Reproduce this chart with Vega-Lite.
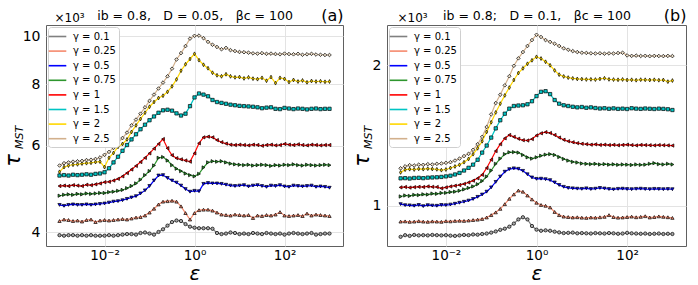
{
"$schema":"https://vega.github.io/schema/vega-lite/v6.json",
"padding":{"left":1,"right":8,"top":6,"bottom":0},
"bounds":"flush",
"spacing":44,
"config":{"font":"DejaVu Sans","view":{"stroke":"#606060","strokeWidth":1},
"axis":{"labelFont":"DejaVu Sans","titleFont":"DejaVu Sans","titleFontWeight":"normal","labelColor":"#000","titleColor":"#000"},
"legend":{"labelFont":"DejaVu Sans"}},
"datasets":{
"a":[
{"g":0.1,"e":0.001,"t":3.95},{"g":0.1,"e":0.001259,"t":3.94},{"g":0.1,"e":0.001585,"t":3.95},{"g":0.1,"e":0.001995,"t":3.95},{"g":0.1,"e":0.002512,"t":3.94},{"g":0.1,"e":0.003162,"t":3.95},{"g":0.1,"e":0.003981,"t":3.94},{"g":0.1,"e":0.005012,"t":3.95},{"g":0.1,"e":0.00631,"t":3.94},{"g":0.1,"e":0.007943,"t":3.94},
{"g":0.1,"e":0.01,"t":3.94},{"g":0.1,"e":0.01259,"t":3.95},{"g":0.1,"e":0.01585,"t":3.94},{"g":0.1,"e":0.01995,"t":3.95},{"g":0.1,"e":0.02512,"t":3.96},{"g":0.1,"e":0.03162,"t":3.97},{"g":0.1,"e":0.03981,"t":3.97},{"g":0.1,"e":0.05012,"t":3.96},{"g":0.1,"e":0.0631,"t":3.99},{"g":0.1,"e":0.07943,"t":4.00},
{"g":0.1,"e":0.1,"t":3.98},{"g":0.1,"e":0.1259,"t":3.96},{"g":0.1,"e":0.1585,"t":4.01},{"g":0.1,"e":0.1995,"t":4.06},{"g":0.1,"e":0.2512,"t":4.13},{"g":0.1,"e":0.3162,"t":4.20},{"g":0.1,"e":0.3981,"t":4.23},{"g":0.1,"e":0.5012,"t":4.22},{"g":0.1,"e":0.631,"t":4.16},{"g":0.1,"e":0.7943,"t":4.11},
{"g":0.1,"e":1,"t":4.09},{"g":0.1,"e":1.259,"t":4.08},{"g":0.1,"e":1.585,"t":4.08},{"g":0.1,"e":1.995,"t":4.08},{"g":0.1,"e":2.512,"t":4.07},{"g":0.1,"e":3.162,"t":3.99},{"g":0.1,"e":3.981,"t":3.97},{"g":0.1,"e":5.012,"t":3.98},{"g":0.1,"e":6.31,"t":4.00},{"g":0.1,"e":7.943,"t":3.99},
{"g":0.1,"e":10,"t":3.97},{"g":0.1,"e":12.59,"t":3.98},{"g":0.1,"e":15.85,"t":3.97},{"g":0.1,"e":19.95,"t":3.99},{"g":0.1,"e":25.12,"t":3.98},{"g":0.1,"e":31.62,"t":3.97},{"g":0.1,"e":39.81,"t":3.99},{"g":0.1,"e":50.12,"t":3.98},{"g":0.1,"e":63.1,"t":3.97},{"g":0.1,"e":79.43,"t":3.98},
{"g":0.1,"e":100,"t":3.96},{"g":0.1,"e":125.9,"t":3.98},{"g":0.1,"e":158.5,"t":3.99},{"g":0.1,"e":199.5,"t":3.98},{"g":0.1,"e":251.2,"t":3.97},{"g":0.1,"e":316.2,"t":3.98},{"g":0.1,"e":398.1,"t":3.99},{"g":0.1,"e":501.2,"t":3.96},{"g":0.1,"e":631,"t":3.97},{"g":0.1,"e":794.3,"t":3.98},{"g":0.1,"e":1000,"t":3.98},
{"g":0.25,"e":0.001,"t":4.22},{"g":0.25,"e":0.001259,"t":4.25},{"g":0.25,"e":0.001585,"t":4.24},{"g":0.25,"e":0.001995,"t":4.22},{"g":0.25,"e":0.002512,"t":4.23},{"g":0.25,"e":0.003162,"t":4.21},{"g":0.25,"e":0.003981,"t":4.24},{"g":0.25,"e":0.005012,"t":4.25},{"g":0.25,"e":0.00631,"t":4.20},{"g":0.25,"e":0.007943,"t":4.23},
{"g":0.25,"e":0.01,"t":4.24},{"g":0.25,"e":0.01259,"t":4.23},{"g":0.25,"e":0.01585,"t":4.24},{"g":0.25,"e":0.01995,"t":4.25},{"g":0.25,"e":0.02512,"t":4.26},{"g":0.25,"e":0.03162,"t":4.25},{"g":0.25,"e":0.03981,"t":4.27},{"g":0.25,"e":0.05012,"t":4.29},{"g":0.25,"e":0.0631,"t":4.30},{"g":0.25,"e":0.07943,"t":4.33},
{"g":0.25,"e":0.1,"t":4.39},{"g":0.25,"e":0.1259,"t":4.47},{"g":0.25,"e":0.1585,"t":4.56},{"g":0.25,"e":0.1995,"t":4.62},{"g":0.25,"e":0.2512,"t":4.63},{"g":0.25,"e":0.3162,"t":4.64},{"g":0.25,"e":0.3981,"t":4.62},{"g":0.25,"e":0.5012,"t":4.52},{"g":0.25,"e":0.631,"t":4.38},{"g":0.25,"e":0.7943,"t":4.25},
{"g":0.25,"e":1,"t":4.38},{"g":0.25,"e":1.259,"t":4.44},{"g":0.25,"e":1.585,"t":4.45},{"g":0.25,"e":1.995,"t":4.45},{"g":0.25,"e":2.512,"t":4.43},{"g":0.25,"e":3.162,"t":4.39},{"g":0.25,"e":3.981,"t":4.35},{"g":0.25,"e":5.012,"t":4.34},{"g":0.25,"e":6.31,"t":4.33},{"g":0.25,"e":7.943,"t":4.35},
{"g":0.25,"e":10,"t":4.34},{"g":0.25,"e":12.59,"t":4.33},{"g":0.25,"e":15.85,"t":4.34},{"g":0.25,"e":19.95,"t":4.28},{"g":0.25,"e":25.12,"t":4.33},{"g":0.25,"e":31.62,"t":4.32},{"g":0.25,"e":39.81,"t":4.34},{"g":0.25,"e":50.12,"t":4.33},{"g":0.25,"e":63.1,"t":4.35},{"g":0.25,"e":79.43,"t":4.40},
{"g":0.25,"e":100,"t":4.33},{"g":0.25,"e":125.9,"t":4.32},{"g":0.25,"e":158.5,"t":4.33},{"g":0.25,"e":199.5,"t":4.34},{"g":0.25,"e":251.2,"t":4.32},{"g":0.25,"e":316.2,"t":4.37},{"g":0.25,"e":398.1,"t":4.33},{"g":0.25,"e":501.2,"t":4.35},{"g":0.25,"e":631,"t":4.34},{"g":0.25,"e":794.3,"t":4.33},{"g":0.25,"e":1000,"t":4.32},
{"g":0.5,"e":0.001,"t":4.55},{"g":0.5,"e":0.001259,"t":4.53},{"g":0.5,"e":0.001585,"t":4.55},{"g":0.5,"e":0.001995,"t":4.56},{"g":0.5,"e":0.002512,"t":4.55},{"g":0.5,"e":0.003162,"t":4.55},{"g":0.5,"e":0.003981,"t":4.56},{"g":0.5,"e":0.005012,"t":4.55},{"g":0.5,"e":0.00631,"t":4.56},{"g":0.5,"e":0.007943,"t":4.57},
{"g":0.5,"e":0.01,"t":4.58},{"g":0.5,"e":0.01259,"t":4.60},{"g":0.5,"e":0.01585,"t":4.62},{"g":0.5,"e":0.01995,"t":4.63},{"g":0.5,"e":0.02512,"t":4.65},{"g":0.5,"e":0.03162,"t":4.68},{"g":0.5,"e":0.03981,"t":4.71},{"g":0.5,"e":0.05012,"t":4.74},{"g":0.5,"e":0.0631,"t":4.80},{"g":0.5,"e":0.07943,"t":4.87},
{"g":0.5,"e":0.1,"t":4.97},{"g":0.5,"e":0.1259,"t":5.10},{"g":0.5,"e":0.1585,"t":5.22},{"g":0.5,"e":0.1995,"t":5.23},{"g":0.5,"e":0.2512,"t":5.16},{"g":0.5,"e":0.3162,"t":5.10},{"g":0.5,"e":0.3981,"t":5.05},{"g":0.5,"e":0.5012,"t":4.98},{"g":0.5,"e":0.631,"t":4.90},{"g":0.5,"e":0.7943,"t":4.84},
{"g":0.5,"e":1,"t":4.86},{"g":0.5,"e":1.259,"t":4.85},{"g":0.5,"e":1.585,"t":5.02},{"g":0.5,"e":1.995,"t":5.04},{"g":0.5,"e":2.512,"t":5.03},{"g":0.5,"e":3.162,"t":5.03},{"g":0.5,"e":3.981,"t":5.02},{"g":0.5,"e":5.012,"t":5.00},{"g":0.5,"e":6.31,"t":4.98},{"g":0.5,"e":7.943,"t":4.97},
{"g":0.5,"e":10,"t":4.98},{"g":0.5,"e":12.59,"t":4.99},{"g":0.5,"e":15.85,"t":4.96},{"g":0.5,"e":19.95,"t":4.98},{"g":0.5,"e":25.12,"t":4.99},{"g":0.5,"e":31.62,"t":4.97},{"g":0.5,"e":39.81,"t":4.95},{"g":0.5,"e":50.12,"t":4.98},{"g":0.5,"e":63.1,"t":4.97},{"g":0.5,"e":79.43,"t":4.99},
{"g":0.5,"e":100,"t":4.96},{"g":0.5,"e":125.9,"t":4.95},{"g":0.5,"e":158.5,"t":4.98},{"g":0.5,"e":199.5,"t":4.97},{"g":0.5,"e":251.2,"t":4.96},{"g":0.5,"e":316.2,"t":4.97},{"g":0.5,"e":398.1,"t":4.98},{"g":0.5,"e":501.2,"t":4.95},{"g":0.5,"e":631,"t":4.96},{"g":0.5,"e":794.3,"t":4.95},{"g":0.5,"e":1000,"t":4.93},
{"g":0.75,"e":0.001,"t":4.75},{"g":0.75,"e":0.001259,"t":4.77},{"g":0.75,"e":0.001585,"t":4.78},{"g":0.75,"e":0.001995,"t":4.77},{"g":0.75,"e":0.002512,"t":4.79},{"g":0.75,"e":0.003162,"t":4.78},{"g":0.75,"e":0.003981,"t":4.80},{"g":0.75,"e":0.005012,"t":4.79},{"g":0.75,"e":0.00631,"t":4.80},{"g":0.75,"e":0.007943,"t":4.81},
{"g":0.75,"e":0.01,"t":4.81},{"g":0.75,"e":0.01259,"t":4.83},{"g":0.75,"e":0.01585,"t":4.84},{"g":0.75,"e":0.01995,"t":4.86},{"g":0.75,"e":0.02512,"t":4.88},{"g":0.75,"e":0.03162,"t":4.92},{"g":0.75,"e":0.03981,"t":4.97},{"g":0.75,"e":0.05012,"t":5.03},{"g":0.75,"e":0.0631,"t":5.12},{"g":0.75,"e":0.07943,"t":5.23},
{"g":0.75,"e":0.1,"t":5.33},{"g":0.75,"e":0.1259,"t":5.47},{"g":0.75,"e":0.1585,"t":5.67},{"g":0.75,"e":0.1995,"t":5.69},{"g":0.75,"e":0.2512,"t":5.60},{"g":0.75,"e":0.3162,"t":5.48},{"g":0.75,"e":0.3981,"t":5.39},{"g":0.75,"e":0.5012,"t":5.33},{"g":0.75,"e":0.631,"t":5.27},{"g":0.75,"e":0.7943,"t":5.23},
{"g":0.75,"e":1,"t":5.20},{"g":0.75,"e":1.259,"t":5.26},{"g":0.75,"e":1.585,"t":5.42},{"g":0.75,"e":1.995,"t":5.55},{"g":0.75,"e":2.512,"t":5.58},{"g":0.75,"e":3.162,"t":5.57},{"g":0.75,"e":3.981,"t":5.58},{"g":0.75,"e":5.012,"t":5.55},{"g":0.75,"e":6.31,"t":5.52},{"g":0.75,"e":7.943,"t":5.50},
{"g":0.75,"e":10,"t":5.49},{"g":0.75,"e":12.59,"t":5.48},{"g":0.75,"e":15.85,"t":5.49},{"g":0.75,"e":19.95,"t":5.47},{"g":0.75,"e":25.12,"t":5.48},{"g":0.75,"e":31.62,"t":5.49},{"g":0.75,"e":39.81,"t":5.48},{"g":0.75,"e":50.12,"t":5.46},{"g":0.75,"e":63.1,"t":5.48},{"g":0.75,"e":79.43,"t":5.47},
{"g":0.75,"e":100,"t":5.49},{"g":0.75,"e":125.9,"t":5.48},{"g":0.75,"e":158.5,"t":5.50},{"g":0.75,"e":199.5,"t":5.48},{"g":0.75,"e":251.2,"t":5.47},{"g":0.75,"e":316.2,"t":5.49},{"g":0.75,"e":398.1,"t":5.48},{"g":0.75,"e":501.2,"t":5.47},{"g":0.75,"e":631,"t":5.48},{"g":0.75,"e":794.3,"t":5.49},{"g":0.75,"e":1000,"t":5.48},
{"g":1,"e":0.001,"t":4.97},{"g":1,"e":0.001259,"t":4.98},{"g":1,"e":0.001585,"t":4.97},{"g":1,"e":0.001995,"t":4.99},{"g":1,"e":0.002512,"t":4.98},{"g":1,"e":0.003162,"t":4.97},{"g":1,"e":0.003981,"t":5.00},{"g":1,"e":0.005012,"t":4.99},{"g":1,"e":0.00631,"t":5.01},{"g":1,"e":0.007943,"t":5.03},
{"g":1,"e":0.01,"t":5.06},{"g":1,"e":0.01259,"t":5.07},{"g":1,"e":0.01585,"t":5.10},{"g":1,"e":0.01995,"t":5.14},{"g":1,"e":0.02512,"t":5.20},{"g":1,"e":0.03162,"t":5.28},{"g":1,"e":0.03981,"t":5.37},{"g":1,"e":0.05012,"t":5.46},{"g":1,"e":0.0631,"t":5.56},{"g":1,"e":0.07943,"t":5.67},
{"g":1,"e":0.1,"t":5.79},{"g":1,"e":0.1259,"t":5.92},{"g":1,"e":0.1585,"t":6.05},{"g":1,"e":0.1995,"t":6.19},{"g":1,"e":0.2512,"t":5.93},{"g":1,"e":0.3162,"t":5.74},{"g":1,"e":0.3981,"t":5.66},{"g":1,"e":0.5012,"t":5.63},{"g":1,"e":0.631,"t":5.60},{"g":1,"e":0.7943,"t":5.57},
{"g":1,"e":1,"t":5.79},{"g":1,"e":1.259,"t":6.07},{"g":1,"e":1.585,"t":6.24},{"g":1,"e":1.995,"t":6.26},{"g":1,"e":2.512,"t":6.24},{"g":1,"e":3.162,"t":6.16},{"g":1,"e":3.981,"t":6.10},{"g":1,"e":5.012,"t":6.06},{"g":1,"e":6.31,"t":6.03},{"g":1,"e":7.943,"t":6.02},
{"g":1,"e":10,"t":6.03},{"g":1,"e":12.59,"t":6.02},{"g":1,"e":15.85,"t":6.01},{"g":1,"e":19.95,"t":6.03},{"g":1,"e":25.12,"t":6.02},{"g":1,"e":31.62,"t":6.00},{"g":1,"e":39.81,"t":6.02},{"g":1,"e":50.12,"t":6.03},{"g":1,"e":63.1,"t":6.01},{"g":1,"e":79.43,"t":6.02},
{"g":1,"e":100,"t":6.05},{"g":1,"e":125.9,"t":6.03},{"g":1,"e":158.5,"t":6.02},{"g":1,"e":199.5,"t":6.04},{"g":1,"e":251.2,"t":6.02},{"g":1,"e":316.2,"t":6.01},{"g":1,"e":398.1,"t":6.03},{"g":1,"e":501.2,"t":6.02},{"g":1,"e":631,"t":6.01},{"g":1,"e":794.3,"t":6.02},{"g":1,"e":1000,"t":6.02},
{"g":1.5,"e":0.001,"t":5.22},{"g":1.5,"e":0.001259,"t":5.23},{"g":1.5,"e":0.001585,"t":5.22},{"g":1.5,"e":0.001995,"t":5.24},{"g":1.5,"e":0.002512,"t":5.23},{"g":1.5,"e":0.003162,"t":5.24},{"g":1.5,"e":0.003981,"t":5.25},{"g":1.5,"e":0.005012,"t":5.24},{"g":1.5,"e":0.00631,"t":5.26},{"g":1.5,"e":0.007943,"t":5.27},
{"g":1.5,"e":0.01,"t":5.30},{"g":1.5,"e":0.01259,"t":5.40},{"g":1.5,"e":0.01585,"t":5.55},{"g":1.5,"e":0.01995,"t":5.70},{"g":1.5,"e":0.02512,"t":5.86},{"g":1.5,"e":0.03162,"t":6.02},{"g":1.5,"e":0.03981,"t":6.18},{"g":1.5,"e":0.05012,"t":6.33},{"g":1.5,"e":0.0631,"t":6.48},{"g":1.5,"e":0.07943,"t":6.62},
{"g":1.5,"e":0.1,"t":6.76},{"g":1.5,"e":0.1259,"t":6.88},{"g":1.5,"e":0.1585,"t":7.00},{"g":1.5,"e":0.1995,"t":7.08},{"g":1.5,"e":0.2512,"t":7.10},{"g":1.5,"e":0.3162,"t":7.07},{"g":1.5,"e":0.3981,"t":6.98},{"g":1.5,"e":0.5012,"t":6.91},{"g":1.5,"e":0.631,"t":6.97},{"g":1.5,"e":0.7943,"t":7.22},
{"g":1.5,"e":1,"t":7.52},{"g":1.5,"e":1.259,"t":7.66},{"g":1.5,"e":1.585,"t":7.62},{"g":1.5,"e":1.995,"t":7.56},{"g":1.5,"e":2.512,"t":7.43},{"g":1.5,"e":3.162,"t":7.36},{"g":1.5,"e":3.981,"t":7.33},{"g":1.5,"e":5.012,"t":7.30},{"g":1.5,"e":6.31,"t":7.27},{"g":1.5,"e":7.943,"t":7.25},
{"g":1.5,"e":10,"t":7.23},{"g":1.5,"e":12.59,"t":7.22},{"g":1.5,"e":15.85,"t":7.21},{"g":1.5,"e":19.95,"t":7.20},{"g":1.5,"e":25.12,"t":7.18},{"g":1.5,"e":31.62,"t":7.15},{"g":1.5,"e":39.81,"t":7.17},{"g":1.5,"e":50.12,"t":7.18},{"g":1.5,"e":63.1,"t":7.13},{"g":1.5,"e":79.43,"t":7.12},
{"g":1.5,"e":100,"t":7.16},{"g":1.5,"e":125.9,"t":7.14},{"g":1.5,"e":158.5,"t":7.12},{"g":1.5,"e":199.5,"t":7.14},{"g":1.5,"e":251.2,"t":7.13},{"g":1.5,"e":316.2,"t":7.11},{"g":1.5,"e":398.1,"t":7.13},{"g":1.5,"e":501.2,"t":7.14},{"g":1.5,"e":631,"t":7.12},{"g":1.5,"e":794.3,"t":7.13},{"g":1.5,"e":1000,"t":7.13},
{"g":2,"e":0.001,"t":5.31},{"g":2,"e":0.001259,"t":5.43},{"g":2,"e":0.001585,"t":5.47},{"g":2,"e":0.001995,"t":5.49},{"g":2,"e":0.002512,"t":5.50},{"g":2,"e":0.003162,"t":5.52},{"g":2,"e":0.003981,"t":5.53},{"g":2,"e":0.005012,"t":5.54},{"g":2,"e":0.00631,"t":5.56},{"g":2,"e":0.007943,"t":5.57},
{"g":2,"e":0.01,"t":5.43},{"g":2,"e":0.01259,"t":5.67},{"g":2,"e":0.01585,"t":5.80},{"g":2,"e":0.01995,"t":5.97},{"g":2,"e":0.02512,"t":6.05},{"g":2,"e":0.03162,"t":6.18},{"g":2,"e":0.03981,"t":6.40},{"g":2,"e":0.05012,"t":6.60},{"g":2,"e":0.0631,"t":6.80},{"g":2,"e":0.07943,"t":7.00},
{"g":2,"e":0.1,"t":7.20},{"g":2,"e":0.1259,"t":7.36},{"g":2,"e":0.1585,"t":7.50},{"g":2,"e":0.1995,"t":7.58},{"g":2,"e":0.2512,"t":7.72},{"g":2,"e":0.3162,"t":7.92},{"g":2,"e":0.3981,"t":8.18},{"g":2,"e":0.5012,"t":8.52},{"g":2,"e":0.631,"t":8.78},{"g":2,"e":0.7943,"t":9.00},
{"g":2,"e":1,"t":9.22},{"g":2,"e":1.259,"t":8.95},{"g":2,"e":1.585,"t":8.76},{"g":2,"e":1.995,"t":8.62},{"g":2,"e":2.512,"t":8.44},{"g":2,"e":3.162,"t":8.34},{"g":2,"e":3.981,"t":8.30},{"g":2,"e":5.012,"t":8.38},{"g":2,"e":6.31,"t":8.30},{"g":2,"e":7.943,"t":8.26},
{"g":2,"e":10,"t":8.27},{"g":2,"e":12.59,"t":8.22},{"g":2,"e":15.85,"t":8.26},{"g":2,"e":19.95,"t":8.21},{"g":2,"e":25.12,"t":8.19},{"g":2,"e":31.62,"t":8.24},{"g":2,"e":39.81,"t":8.13},{"g":2,"e":50.12,"t":8.27},{"g":2,"e":63.1,"t":8.04},{"g":2,"e":79.43,"t":8.24},
{"g":2,"e":100,"t":8.20},{"g":2,"e":125.9,"t":8.08},{"g":2,"e":158.5,"t":8.16},{"g":2,"e":199.5,"t":8.10},{"g":2,"e":251.2,"t":8.14},{"g":2,"e":316.2,"t":8.07},{"g":2,"e":398.1,"t":8.12},{"g":2,"e":501.2,"t":8.10},{"g":2,"e":631,"t":8.11},{"g":2,"e":794.3,"t":8.09},{"g":2,"e":1000,"t":8.10},
{"g":2.5,"e":0.001,"t":5.47},{"g":2.5,"e":0.001259,"t":5.53},{"g":2.5,"e":0.001585,"t":5.55},{"g":2.5,"e":0.001995,"t":5.57},{"g":2.5,"e":0.002512,"t":5.58},{"g":2.5,"e":0.003162,"t":5.59},{"g":2.5,"e":0.003981,"t":5.61},{"g":2.5,"e":0.005012,"t":5.62},{"g":2.5,"e":0.00631,"t":5.64},{"g":2.5,"e":0.007943,"t":5.68},
{"g":2.5,"e":0.01,"t":5.75},{"g":2.5,"e":0.01259,"t":5.83},{"g":2.5,"e":0.01585,"t":5.94},{"g":2.5,"e":0.01995,"t":6.08},{"g":2.5,"e":0.02512,"t":6.22},{"g":2.5,"e":0.03162,"t":6.38},{"g":2.5,"e":0.03981,"t":6.60},{"g":2.5,"e":0.05012,"t":6.78},{"g":2.5,"e":0.0631,"t":6.97},{"g":2.5,"e":0.07943,"t":7.18},
{"g":2.5,"e":0.1,"t":7.40},{"g":2.5,"e":0.1259,"t":7.62},{"g":2.5,"e":0.1585,"t":7.84},{"g":2.5,"e":0.1995,"t":8.06},{"g":2.5,"e":0.2512,"t":8.30},{"g":2.5,"e":0.3162,"t":8.60},{"g":2.5,"e":0.3981,"t":8.98},{"g":2.5,"e":0.5012,"t":9.25},{"g":2.5,"e":0.631,"t":9.56},{"g":2.5,"e":0.7943,"t":9.90},
{"g":2.5,"e":1,"t":10.03},{"g":2.5,"e":1.259,"t":10.04},{"g":2.5,"e":1.585,"t":9.92},{"g":2.5,"e":1.995,"t":9.75},{"g":2.5,"e":2.512,"t":9.62},{"g":2.5,"e":3.162,"t":9.52},{"g":2.5,"e":3.981,"t":9.42},{"g":2.5,"e":5.012,"t":9.48},{"g":2.5,"e":6.31,"t":9.38},{"g":2.5,"e":7.943,"t":9.34},
{"g":2.5,"e":10,"t":9.30},{"g":2.5,"e":12.59,"t":9.29},{"g":2.5,"e":15.85,"t":9.27},{"g":2.5,"e":19.95,"t":9.24},{"g":2.5,"e":25.12,"t":9.23},{"g":2.5,"e":31.62,"t":9.25},{"g":2.5,"e":39.81,"t":9.22},{"g":2.5,"e":50.12,"t":9.23},{"g":2.5,"e":63.1,"t":9.21},{"g":2.5,"e":79.43,"t":9.20},
{"g":2.5,"e":100,"t":9.23},{"g":2.5,"e":125.9,"t":9.21},{"g":2.5,"e":158.5,"t":9.20},{"g":2.5,"e":199.5,"t":9.22},{"g":2.5,"e":251.2,"t":9.18},{"g":2.5,"e":316.2,"t":9.20},{"g":2.5,"e":398.1,"t":9.22},{"g":2.5,"e":501.2,"t":9.19},{"g":2.5,"e":631,"t":9.18},{"g":2.5,"e":794.3,"t":9.17},{"g":2.5,"e":1000,"t":9.17}
],
"b":[
{"g":0.1,"e":0.001,"t":0.858},{"g":0.1,"e":0.001259,"t":0.865},{"g":0.1,"e":0.001585,"t":0.862},{"g":0.1,"e":0.001995,"t":0.866},{"g":0.1,"e":0.002512,"t":0.864},{"g":0.1,"e":0.003162,"t":0.865},{"g":0.1,"e":0.003981,"t":0.864},{"g":0.1,"e":0.005012,"t":0.866},{"g":0.1,"e":0.00631,"t":0.865},{"g":0.1,"e":0.007943,"t":0.864},
{"g":0.1,"e":0.01,"t":0.865},{"g":0.1,"e":0.01259,"t":0.863},{"g":0.1,"e":0.01585,"t":0.862},{"g":0.1,"e":0.01995,"t":0.864},{"g":0.1,"e":0.02512,"t":0.866},{"g":0.1,"e":0.03162,"t":0.865},{"g":0.1,"e":0.03981,"t":0.868},{"g":0.1,"e":0.05012,"t":0.867},{"g":0.1,"e":0.0631,"t":0.870},{"g":0.1,"e":0.07943,"t":0.872},
{"g":0.1,"e":0.1,"t":0.876},{"g":0.1,"e":0.1259,"t":0.881},{"g":0.1,"e":0.1585,"t":0.888},{"g":0.1,"e":0.1995,"t":0.893},{"g":0.1,"e":0.2512,"t":0.902},{"g":0.1,"e":0.3162,"t":0.916},{"g":0.1,"e":0.3981,"t":0.935},{"g":0.1,"e":0.5012,"t":0.945},{"g":0.1,"e":0.631,"t":0.935},{"g":0.1,"e":0.7943,"t":0.905},
{"g":0.1,"e":1,"t":0.889},{"g":0.1,"e":1.259,"t":0.884},{"g":0.1,"e":1.585,"t":0.886},{"g":0.1,"e":1.995,"t":0.884},{"g":0.1,"e":2.512,"t":0.880},{"g":0.1,"e":3.162,"t":0.877},{"g":0.1,"e":3.981,"t":0.874},{"g":0.1,"e":5.012,"t":0.875},{"g":0.1,"e":6.31,"t":0.876},{"g":0.1,"e":7.943,"t":0.873},
{"g":0.1,"e":10,"t":0.874},{"g":0.1,"e":12.59,"t":0.873},{"g":0.1,"e":15.85,"t":0.872},{"g":0.1,"e":19.95,"t":0.874},{"g":0.1,"e":25.12,"t":0.873},{"g":0.1,"e":31.62,"t":0.872},{"g":0.1,"e":39.81,"t":0.874},{"g":0.1,"e":50.12,"t":0.873},{"g":0.1,"e":63.1,"t":0.871},{"g":0.1,"e":79.43,"t":0.872},
{"g":0.1,"e":100,"t":0.875},{"g":0.1,"e":125.9,"t":0.873},{"g":0.1,"e":158.5,"t":0.872},{"g":0.1,"e":199.5,"t":0.871},{"g":0.1,"e":251.2,"t":0.872},{"g":0.1,"e":316.2,"t":0.870},{"g":0.1,"e":398.1,"t":0.871},{"g":0.1,"e":501.2,"t":0.872},{"g":0.1,"e":631,"t":0.870},{"g":0.1,"e":794.3,"t":0.871},{"g":0.1,"e":1000,"t":0.870},
{"g":0.25,"e":0.001,"t":0.925},{"g":0.25,"e":0.001259,"t":0.926},{"g":0.25,"e":0.001585,"t":0.924},{"g":0.25,"e":0.001995,"t":0.925},{"g":0.25,"e":0.002512,"t":0.927},{"g":0.25,"e":0.003162,"t":0.925},{"g":0.25,"e":0.003981,"t":0.924},{"g":0.25,"e":0.005012,"t":0.926},{"g":0.25,"e":0.00631,"t":0.925},{"g":0.25,"e":0.007943,"t":0.924},
{"g":0.25,"e":0.01,"t":0.927},{"g":0.25,"e":0.01259,"t":0.926},{"g":0.25,"e":0.01585,"t":0.928},{"g":0.25,"e":0.01995,"t":0.929},{"g":0.25,"e":0.02512,"t":0.928},{"g":0.25,"e":0.03162,"t":0.930},{"g":0.25,"e":0.03981,"t":0.932},{"g":0.25,"e":0.05012,"t":0.934},{"g":0.25,"e":0.0631,"t":0.937},{"g":0.25,"e":0.07943,"t":0.944},
{"g":0.25,"e":0.1,"t":0.955},{"g":0.25,"e":0.1259,"t":0.968},{"g":0.25,"e":0.1585,"t":0.985},{"g":0.25,"e":0.1995,"t":1.008},{"g":0.25,"e":0.2512,"t":1.035},{"g":0.25,"e":0.3162,"t":1.058},{"g":0.25,"e":0.3981,"t":1.078},{"g":0.25,"e":0.5012,"t":1.072},{"g":0.25,"e":0.631,"t":1.052},{"g":0.25,"e":0.7943,"t":1.032},
{"g":0.25,"e":1,"t":1.015},{"g":0.25,"e":1.259,"t":1.004},{"g":0.25,"e":1.585,"t":1.000},{"g":0.25,"e":1.995,"t":0.992},{"g":0.25,"e":2.512,"t":0.970},{"g":0.25,"e":3.162,"t":0.955},{"g":0.25,"e":3.981,"t":0.948},{"g":0.25,"e":5.012,"t":0.946},{"g":0.25,"e":6.31,"t":0.944},{"g":0.25,"e":7.943,"t":0.945},
{"g":0.25,"e":10,"t":0.943},{"g":0.25,"e":12.59,"t":0.942},{"g":0.25,"e":15.85,"t":0.944},{"g":0.25,"e":19.95,"t":0.943},{"g":0.25,"e":25.12,"t":0.945},{"g":0.25,"e":31.62,"t":0.947},{"g":0.25,"e":39.81,"t":0.955},{"g":0.25,"e":50.12,"t":0.946},{"g":0.25,"e":63.1,"t":0.943},{"g":0.25,"e":79.43,"t":0.944},
{"g":0.25,"e":100,"t":0.946},{"g":0.25,"e":125.9,"t":0.948},{"g":0.25,"e":158.5,"t":0.945},{"g":0.25,"e":199.5,"t":0.947},{"g":0.25,"e":251.2,"t":0.950},{"g":0.25,"e":316.2,"t":0.944},{"g":0.25,"e":398.1,"t":0.946},{"g":0.25,"e":501.2,"t":0.949},{"g":0.25,"e":631,"t":0.947},{"g":0.25,"e":794.3,"t":0.945},{"g":0.25,"e":1000,"t":0.942},
{"g":0.5,"e":0.001,"t":1.008},{"g":0.5,"e":0.001259,"t":1.003},{"g":0.5,"e":0.001585,"t":1.002},{"g":0.5,"e":0.001995,"t":1.000},{"g":0.5,"e":0.002512,"t":1.004},{"g":0.5,"e":0.003162,"t":0.998},{"g":0.5,"e":0.003981,"t":1.003},{"g":0.5,"e":0.005012,"t":1.001},{"g":0.5,"e":0.00631,"t":1.000},{"g":0.5,"e":0.007943,"t":1.004},
{"g":0.5,"e":0.01,"t":1.003},{"g":0.5,"e":0.01259,"t":1.006},{"g":0.5,"e":0.01585,"t":1.010},{"g":0.5,"e":0.01995,"t":1.015},{"g":0.5,"e":0.02512,"t":1.020},{"g":0.5,"e":0.03162,"t":1.026},{"g":0.5,"e":0.03981,"t":1.034},{"g":0.5,"e":0.05012,"t":1.045},{"g":0.5,"e":0.0631,"t":1.057},{"g":0.5,"e":0.07943,"t":1.072},
{"g":0.5,"e":0.1,"t":1.095},{"g":0.5,"e":0.1259,"t":1.125},{"g":0.5,"e":0.1585,"t":1.155},{"g":0.5,"e":0.1995,"t":1.183},{"g":0.5,"e":0.2512,"t":1.198},{"g":0.5,"e":0.3162,"t":1.203},{"g":0.5,"e":0.3981,"t":1.200},{"g":0.5,"e":0.5012,"t":1.188},{"g":0.5,"e":0.631,"t":1.168},{"g":0.5,"e":0.7943,"t":1.150},
{"g":0.5,"e":1,"t":1.142},{"g":0.5,"e":1.259,"t":1.143},{"g":0.5,"e":1.585,"t":1.140},{"g":0.5,"e":1.995,"t":1.135},{"g":0.5,"e":2.512,"t":1.122},{"g":0.5,"e":3.162,"t":1.108},{"g":0.5,"e":3.981,"t":1.098},{"g":0.5,"e":5.012,"t":1.092},{"g":0.5,"e":6.31,"t":1.090},{"g":0.5,"e":7.943,"t":1.088},
{"g":0.5,"e":10,"t":1.087},{"g":0.5,"e":12.59,"t":1.090},{"g":0.5,"e":15.85,"t":1.086},{"g":0.5,"e":19.95,"t":1.088},{"g":0.5,"e":25.12,"t":1.092},{"g":0.5,"e":31.62,"t":1.089},{"g":0.5,"e":39.81,"t":1.086},{"g":0.5,"e":50.12,"t":1.084},{"g":0.5,"e":63.1,"t":1.087},{"g":0.5,"e":79.43,"t":1.088},
{"g":0.5,"e":100,"t":1.086},{"g":0.5,"e":125.9,"t":1.085},{"g":0.5,"e":158.5,"t":1.087},{"g":0.5,"e":199.5,"t":1.088},{"g":0.5,"e":251.2,"t":1.086},{"g":0.5,"e":316.2,"t":1.085},{"g":0.5,"e":398.1,"t":1.087},{"g":0.5,"e":501.2,"t":1.086},{"g":0.5,"e":631,"t":1.085},{"g":0.5,"e":794.3,"t":1.086},{"g":0.5,"e":1000,"t":1.085},
{"g":0.75,"e":0.001,"t":1.047},{"g":0.75,"e":0.001259,"t":1.052},{"g":0.75,"e":0.001585,"t":1.050},{"g":0.75,"e":0.001995,"t":1.055},{"g":0.75,"e":0.002512,"t":1.054},{"g":0.75,"e":0.003162,"t":1.058},{"g":0.75,"e":0.003981,"t":1.057},{"g":0.75,"e":0.005012,"t":1.062},{"g":0.75,"e":0.00631,"t":1.061},{"g":0.75,"e":0.007943,"t":1.065},
{"g":0.75,"e":0.01,"t":1.066},{"g":0.75,"e":0.01259,"t":1.070},{"g":0.75,"e":0.01585,"t":1.072},{"g":0.75,"e":0.01995,"t":1.077},{"g":0.75,"e":0.02512,"t":1.084},{"g":0.75,"e":0.03162,"t":1.092},{"g":0.75,"e":0.03981,"t":1.100},{"g":0.75,"e":0.05012,"t":1.112},{"g":0.75,"e":0.0631,"t":1.130},{"g":0.75,"e":0.07943,"t":1.155},
{"g":0.75,"e":0.1,"t":1.190},{"g":0.75,"e":0.1259,"t":1.230},{"g":0.75,"e":0.1585,"t":1.262},{"g":0.75,"e":0.1995,"t":1.290},{"g":0.75,"e":0.2512,"t":1.302},{"g":0.75,"e":0.3162,"t":1.303},{"g":0.75,"e":0.3981,"t":1.300},{"g":0.75,"e":0.5012,"t":1.285},{"g":0.75,"e":0.631,"t":1.270},{"g":0.75,"e":0.7943,"t":1.262},
{"g":0.75,"e":1,"t":1.270},{"g":0.75,"e":1.259,"t":1.280},{"g":0.75,"e":1.585,"t":1.287},{"g":0.75,"e":1.995,"t":1.290},{"g":0.75,"e":2.512,"t":1.285},{"g":0.75,"e":3.162,"t":1.272},{"g":0.75,"e":3.981,"t":1.260},{"g":0.75,"e":5.012,"t":1.250},{"g":0.75,"e":6.31,"t":1.242},{"g":0.75,"e":7.943,"t":1.238},
{"g":0.75,"e":10,"t":1.232},{"g":0.75,"e":12.59,"t":1.230},{"g":0.75,"e":15.85,"t":1.228},{"g":0.75,"e":19.95,"t":1.230},{"g":0.75,"e":25.12,"t":1.226},{"g":0.75,"e":31.62,"t":1.228},{"g":0.75,"e":39.81,"t":1.225},{"g":0.75,"e":50.12,"t":1.227},{"g":0.75,"e":63.1,"t":1.224},{"g":0.75,"e":79.43,"t":1.226},
{"g":0.75,"e":100,"t":1.225},{"g":0.75,"e":125.9,"t":1.223},{"g":0.75,"e":158.5,"t":1.226},{"g":0.75,"e":199.5,"t":1.224},{"g":0.75,"e":251.2,"t":1.225},{"g":0.75,"e":316.2,"t":1.230},{"g":0.75,"e":398.1,"t":1.234},{"g":0.75,"e":501.2,"t":1.228},{"g":0.75,"e":631,"t":1.226},{"g":0.75,"e":794.3,"t":1.230},{"g":0.75,"e":1000,"t":1.226},
{"g":1,"e":0.001,"t":1.095},{"g":1,"e":0.001259,"t":1.097},{"g":1,"e":0.001585,"t":1.094},{"g":1,"e":0.001995,"t":1.096},{"g":1,"e":0.002512,"t":1.098},{"g":1,"e":0.003162,"t":1.097},{"g":1,"e":0.003981,"t":1.100},{"g":1,"e":0.005012,"t":1.098},{"g":1,"e":0.00631,"t":1.097},{"g":1,"e":0.007943,"t":1.090},
{"g":1,"e":0.01,"t":1.095},{"g":1,"e":0.01259,"t":1.100},{"g":1,"e":0.01585,"t":1.104},{"g":1,"e":0.01995,"t":1.108},{"g":1,"e":0.02512,"t":1.114},{"g":1,"e":0.03162,"t":1.122},{"g":1,"e":0.03981,"t":1.132},{"g":1,"e":0.05012,"t":1.145},{"g":1,"e":0.0631,"t":1.165},{"g":1,"e":0.07943,"t":1.205},
{"g":1,"e":0.1,"t":1.255},{"g":1,"e":0.1259,"t":1.310},{"g":1,"e":0.1585,"t":1.355},{"g":1,"e":0.1995,"t":1.395},{"g":1,"e":0.2512,"t":1.418},{"g":1,"e":0.3162,"t":1.405},{"g":1,"e":0.3981,"t":1.392},{"g":1,"e":0.5012,"t":1.382},{"g":1,"e":0.631,"t":1.380},{"g":1,"e":0.7943,"t":1.390},
{"g":1,"e":1,"t":1.415},{"g":1,"e":1.259,"t":1.430},{"g":1,"e":1.585,"t":1.438},{"g":1,"e":1.995,"t":1.432},{"g":1,"e":2.512,"t":1.418},{"g":1,"e":3.162,"t":1.400},{"g":1,"e":3.981,"t":1.385},{"g":1,"e":5.012,"t":1.375},{"g":1,"e":6.31,"t":1.368},{"g":1,"e":7.943,"t":1.362},
{"g":1,"e":10,"t":1.358},{"g":1,"e":12.59,"t":1.355},{"g":1,"e":15.85,"t":1.352},{"g":1,"e":19.95,"t":1.354},{"g":1,"e":25.12,"t":1.350},{"g":1,"e":31.62,"t":1.352},{"g":1,"e":39.81,"t":1.349},{"g":1,"e":50.12,"t":1.351},{"g":1,"e":63.1,"t":1.348},{"g":1,"e":79.43,"t":1.350},
{"g":1,"e":100,"t":1.352},{"g":1,"e":125.9,"t":1.349},{"g":1,"e":158.5,"t":1.347},{"g":1,"e":199.5,"t":1.350},{"g":1,"e":251.2,"t":1.349},{"g":1,"e":316.2,"t":1.348},{"g":1,"e":398.1,"t":1.347},{"g":1,"e":501.2,"t":1.349},{"g":1,"e":631,"t":1.348},{"g":1,"e":794.3,"t":1.347},{"g":1,"e":1000,"t":1.346},
{"g":1.5,"e":0.001,"t":1.145},{"g":1.5,"e":0.001259,"t":1.146},{"g":1.5,"e":0.001585,"t":1.144},{"g":1.5,"e":0.001995,"t":1.147},{"g":1.5,"e":0.002512,"t":1.148},{"g":1.5,"e":0.003162,"t":1.146},{"g":1.5,"e":0.003981,"t":1.149},{"g":1.5,"e":0.005012,"t":1.150},{"g":1.5,"e":0.00631,"t":1.151},{"g":1.5,"e":0.007943,"t":1.153},
{"g":1.5,"e":0.01,"t":1.156},{"g":1.5,"e":0.01259,"t":1.160},{"g":1.5,"e":0.01585,"t":1.167},{"g":1.5,"e":0.01995,"t":1.176},{"g":1.5,"e":0.02512,"t":1.190},{"g":1.5,"e":0.03162,"t":1.206},{"g":1.5,"e":0.03981,"t":1.225},{"g":1.5,"e":0.05012,"t":1.255},{"g":1.5,"e":0.0631,"t":1.300},{"g":1.5,"e":0.07943,"t":1.346},
{"g":1.5,"e":0.1,"t":1.400},{"g":1.5,"e":0.1259,"t":1.465},{"g":1.5,"e":0.1585,"t":1.525},{"g":1.5,"e":0.1995,"t":1.575},{"g":1.5,"e":0.2512,"t":1.615},{"g":1.5,"e":0.3162,"t":1.636},{"g":1.5,"e":0.3981,"t":1.640},{"g":1.5,"e":0.5012,"t":1.642},{"g":1.5,"e":0.631,"t":1.650},{"g":1.5,"e":0.7943,"t":1.675},
{"g":1.5,"e":1,"t":1.718},{"g":1.5,"e":1.259,"t":1.755},{"g":1.5,"e":1.585,"t":1.760},{"g":1.5,"e":1.995,"t":1.735},{"g":1.5,"e":2.512,"t":1.685},{"g":1.5,"e":3.162,"t":1.655},{"g":1.5,"e":3.981,"t":1.642},{"g":1.5,"e":5.012,"t":1.636},{"g":1.5,"e":6.31,"t":1.630},{"g":1.5,"e":7.943,"t":1.625},
{"g":1.5,"e":10,"t":1.628},{"g":1.5,"e":12.59,"t":1.622},{"g":1.5,"e":15.85,"t":1.625},{"g":1.5,"e":19.95,"t":1.620},{"g":1.5,"e":25.12,"t":1.616},{"g":1.5,"e":31.62,"t":1.618},{"g":1.5,"e":39.81,"t":1.614},{"g":1.5,"e":50.12,"t":1.617},{"g":1.5,"e":63.1,"t":1.613},{"g":1.5,"e":79.43,"t":1.615},
{"g":1.5,"e":100,"t":1.612},{"g":1.5,"e":125.9,"t":1.618},{"g":1.5,"e":158.5,"t":1.615},{"g":1.5,"e":199.5,"t":1.613},{"g":1.5,"e":251.2,"t":1.616},{"g":1.5,"e":316.2,"t":1.614},{"g":1.5,"e":398.1,"t":1.612},{"g":1.5,"e":501.2,"t":1.615},{"g":1.5,"e":631,"t":1.613},{"g":1.5,"e":794.3,"t":1.610},{"g":1.5,"e":1000,"t":1.604},
{"g":2,"e":0.001,"t":1.179},{"g":2,"e":0.001259,"t":1.195},{"g":2,"e":0.001585,"t":1.198},{"g":2,"e":0.001995,"t":1.196},{"g":2,"e":0.002512,"t":1.200},{"g":2,"e":0.003162,"t":1.198},{"g":2,"e":0.003981,"t":1.201},{"g":2,"e":0.005012,"t":1.199},{"g":2,"e":0.00631,"t":1.197},{"g":2,"e":0.007943,"t":1.192},
{"g":2,"e":0.01,"t":1.196},{"g":2,"e":0.01259,"t":1.205},{"g":2,"e":0.01585,"t":1.214},{"g":2,"e":0.01995,"t":1.224},{"g":2,"e":0.02512,"t":1.240},{"g":2,"e":0.03162,"t":1.260},{"g":2,"e":0.03981,"t":1.290},{"g":2,"e":0.05012,"t":1.328},{"g":2,"e":0.0631,"t":1.375},{"g":2,"e":0.07943,"t":1.440},
{"g":2,"e":0.1,"t":1.510},{"g":2,"e":0.1259,"t":1.585},{"g":2,"e":0.1585,"t":1.655},{"g":2,"e":0.1995,"t":1.724},{"g":2,"e":0.2512,"t":1.792},{"g":2,"e":0.3162,"t":1.860},{"g":2,"e":0.3981,"t":1.925},{"g":2,"e":0.5012,"t":1.970},{"g":2,"e":0.631,"t":2.015},{"g":2,"e":0.7943,"t":2.050},
{"g":2,"e":1,"t":2.085},{"g":2,"e":1.259,"t":2.068},{"g":2,"e":1.585,"t":2.035},{"g":2,"e":1.995,"t":2.000},{"g":2,"e":2.512,"t":1.950},{"g":2,"e":3.162,"t":1.910},{"g":2,"e":3.981,"t":1.893},{"g":2,"e":5.012,"t":1.882},{"g":2,"e":6.31,"t":1.875},{"g":2,"e":7.943,"t":1.870},
{"g":2,"e":10,"t":1.868},{"g":2,"e":12.59,"t":1.865},{"g":2,"e":15.85,"t":1.866},{"g":2,"e":19.95,"t":1.864},{"g":2,"e":25.12,"t":1.870},{"g":2,"e":31.62,"t":1.876},{"g":2,"e":39.81,"t":1.866},{"g":2,"e":50.12,"t":1.864},{"g":2,"e":63.1,"t":1.862},{"g":2,"e":79.43,"t":1.865},
{"g":2,"e":100,"t":1.860},{"g":2,"e":125.9,"t":1.862},{"g":2,"e":158.5,"t":1.858},{"g":2,"e":199.5,"t":1.863},{"g":2,"e":251.2,"t":1.862},{"g":2,"e":316.2,"t":1.860},{"g":2,"e":398.1,"t":1.862},{"g":2,"e":501.2,"t":1.858},{"g":2,"e":631,"t":1.860},{"g":2,"e":794.3,"t":1.845},{"g":2,"e":1000,"t":1.855},
{"g":2.5,"e":0.001,"t":1.203},{"g":2.5,"e":0.001259,"t":1.215},{"g":2.5,"e":0.001585,"t":1.222},{"g":2.5,"e":0.001995,"t":1.220},{"g":2.5,"e":0.002512,"t":1.225},{"g":2.5,"e":0.003162,"t":1.224},{"g":2.5,"e":0.003981,"t":1.228},{"g":2.5,"e":0.005012,"t":1.226},{"g":2.5,"e":0.00631,"t":1.230},{"g":2.5,"e":0.007943,"t":1.232},
{"g":2.5,"e":0.01,"t":1.236},{"g":2.5,"e":0.01259,"t":1.240},{"g":2.5,"e":0.01585,"t":1.250},{"g":2.5,"e":0.01995,"t":1.262},{"g":2.5,"e":0.02512,"t":1.278},{"g":2.5,"e":0.03162,"t":1.292},{"g":2.5,"e":0.03981,"t":1.318},{"g":2.5,"e":0.05012,"t":1.355},{"g":2.5,"e":0.0631,"t":1.405},{"g":2.5,"e":0.07943,"t":1.475},
{"g":2.5,"e":0.1,"t":1.570},{"g":2.5,"e":0.1259,"t":1.660},{"g":2.5,"e":0.1585,"t":1.730},{"g":2.5,"e":0.1995,"t":1.812},{"g":2.5,"e":0.2512,"t":1.895},{"g":2.5,"e":0.3162,"t":1.995},{"g":2.5,"e":0.3981,"t":2.070},{"g":2.5,"e":0.5012,"t":2.135},{"g":2.5,"e":0.631,"t":2.200},{"g":2.5,"e":0.7943,"t":2.265},
{"g":2.5,"e":1,"t":2.325},{"g":2.5,"e":1.259,"t":2.300},{"g":2.5,"e":1.585,"t":2.265},{"g":2.5,"e":1.995,"t":2.245},{"g":2.5,"e":2.512,"t":2.225},{"g":2.5,"e":3.162,"t":2.200},{"g":2.5,"e":3.981,"t":2.175},{"g":2.5,"e":5.012,"t":2.160},{"g":2.5,"e":6.31,"t":2.145},{"g":2.5,"e":7.943,"t":2.135},
{"g":2.5,"e":10,"t":2.128},{"g":2.5,"e":12.59,"t":2.126},{"g":2.5,"e":15.85,"t":2.122},{"g":2.5,"e":19.95,"t":2.120},{"g":2.5,"e":25.12,"t":2.122},{"g":2.5,"e":31.62,"t":2.118},{"g":2.5,"e":39.81,"t":2.121},{"g":2.5,"e":50.12,"t":2.120},{"g":2.5,"e":63.1,"t":2.125},{"g":2.5,"e":79.43,"t":2.128},
{"g":2.5,"e":100,"t":2.100},{"g":2.5,"e":125.9,"t":2.095},{"g":2.5,"e":158.5,"t":2.098},{"g":2.5,"e":199.5,"t":2.094},{"g":2.5,"e":251.2,"t":2.096},{"g":2.5,"e":316.2,"t":2.092},{"g":2.5,"e":398.1,"t":2.095},{"g":2.5,"e":501.2,"t":2.094},{"g":2.5,"e":631,"t":2.093},{"g":2.5,"e":794.3,"t":2.095},{"g":2.5,"e":1000,"t":2.093}
]
},
"hconcat":[
{
"width":297,"height":221,
"data":{"name":"a"},
"layer":[
{"mark":{"type":"line","strokeWidth":1.2},
"encoding":{
"x":{"field":"e","type":"quantitative","scale":{"type":"log","domain":[0.000501,1995],"nice":false},
"axis":{"orient":"bottom","values":[0.01,1,100],"labelExpr":"datum.value < 0.1 ? '10⁻²' : (datum.value < 10 ? '10⁰' : '10²')","labelFontSize":13.5,"labelPadding":2,"ticks":false,"domain":false,"grid":true,"gridColor":"#e3e3e3","title":"ε","titleFontSize":20,"titleFontStyle":"italic","titlePadding":2}},
"y":{"field":"t","type":"quantitative","scale":{"type":"log","domain":[3.755,10.55],"nice":false},
"axis":{"orient":"left","values":[4,6,8,10],"format":"d","labelFontSize":14,"labelPadding":6,"ticks":false,"domain":false,"grid":true,"gridColor":"#e3e3e3","title":"τ","titleFontSize":21,"titleFontStyle":"italic","titleAngle":-90,"titleX":-27,"titleY":135,"titleAlign":"center","titleBaseline":"alphabetic"}},
"color":{"field":"g","type":"nominal","scale":{"domain":[0.1,0.25,0.5,0.75,1,1.5,2,2.5],"range":["#808080","#f58a6e","#0000ff","#2e962e","#ff0000","#00c4c4","#ffd700","#d2b08c"]},
"legend":{"title":null,"orient":"top-left","offset":2,"fillColor":"white","strokeColor":"#cfcfcf","cornerRadius":3,"padding":3,"labelFontSize":10,"labelOffset":9,"symbolType":"M-1.6,0H1.6","symbolSize":121,"symbolStrokeWidth":1.6,"rowPadding":2.6,"labelExpr":"'γ = ' + datum.label"}}
}},
{"transform":[{"filter":"datum.g == 0.1"}],
"mark":{"type":"point","shape":"circle","filled":true,"fill":"#a8a8a8","stroke":"black","strokeWidth":0.7,"size":11,"opacity":1},
"encoding":{
"x":{"field":"e","type":"quantitative","scale":{"type":"log","domain":[0.000501,1995],"nice":false},
"axis":{"orient":"top","labels":false,"ticks":false,"domain":false,"grid":false,"title":"(a)","titleAnchor":"end","titleFontSize":16,"titlePadding":2}},
"y":{"field":"t","type":"quantitative","scale":{"type":"log","domain":[3.755,10.55],"nice":false},
"axis":{"orient":"left","labels":false,"ticks":false,"domain":false,"grid":false,"title":"MST","titleFontSize":11,"titleFontStyle":"italic","titleAngle":-90,"titleX":-24,"titleY":112,"titleAlign":"center","titleBaseline":"alphabetic"}}}},
{"transform":[{"filter":"datum.g == 0.25"}],
"mark":{"type":"point","shape":"triangle-up","filled":true,"fill":"#f58a6e","stroke":"black","strokeWidth":0.7,"size":11,"opacity":1},
"encoding":{
"x":{"field":"e","type":"quantitative","scale":{"type":"log","domain":[0.000501,1995],"nice":false},
"axis":{"orient":"top","labels":false,"ticks":false,"domain":false,"grid":false,"title":"ib = 0.8,\u2002\u2002D = 0.05,\u2002\u2002βc = 100","titleAnchor":"middle","titleFontSize":12.5,"titlePadding":3}},
"y":{"field":"t","type":"quantitative","scale":{"type":"log","domain":[3.755,10.55],"nice":false},
"axis":{"orient":"left","labels":false,"ticks":false,"domain":false,"grid":false,"title":"×10³","titleFontSize":12,"titleAngle":0,"titleX":23,"titleY":-4,"titleAlign":"center","titleBaseline":"alphabetic"}}}},
{"transform":[{"filter":"datum.g == 0.5"}],
"mark":{"type":"point","shape":"triangle-down","filled":true,"fill":"#0000ff","stroke":"black","strokeWidth":0.7,"size":11,"opacity":1},
"encoding":{"x":{"field":"e","type":"quantitative","scale":{"type":"log","domain":[0.000501,1995],"nice":false},"axis":null},"y":{"field":"t","type":"quantitative","scale":{"type":"log","domain":[3.755,10.55],"nice":false},"axis":null}}},
{"transform":[{"filter":"datum.g == 0.75"}],
"mark":{"type":"point","shape":"triangle-right","filled":true,"fill":"#2e962e","stroke":"black","strokeWidth":0.7,"size":11,"opacity":1},
"encoding":{"x":{"field":"e","type":"quantitative","scale":{"type":"log","domain":[0.000501,1995],"nice":false},"axis":null},"y":{"field":"t","type":"quantitative","scale":{"type":"log","domain":[3.755,10.55],"nice":false},"axis":null}}},
{"transform":[{"filter":"datum.g == 1"}],
"mark":{"type":"point","shape":"triangle-left","filled":true,"fill":"#ff0000","stroke":"black","strokeWidth":0.7,"size":11,"opacity":1},
"encoding":{"x":{"field":"e","type":"quantitative","scale":{"type":"log","domain":[0.000501,1995],"nice":false},"axis":null},"y":{"field":"t","type":"quantitative","scale":{"type":"log","domain":[3.755,10.55],"nice":false},"axis":null}}},
{"transform":[{"filter":"datum.g == 1.5"}],
"mark":{"type":"point","shape":"square","filled":true,"fill":"#00c4c4","stroke":"black","strokeWidth":0.7,"size":11,"opacity":1},
"encoding":{"x":{"field":"e","type":"quantitative","scale":{"type":"log","domain":[0.000501,1995],"nice":false},"axis":null},"y":{"field":"t","type":"quantitative","scale":{"type":"log","domain":[3.755,10.55],"nice":false},"axis":null}}},
{"transform":[{"filter":"datum.g == 2"}],
"mark":{"type":"point","shape":"M0,-1L0.55,0L0,1L-0.55,0Z","filled":true,"fill":"#ffd700","stroke":"black","strokeWidth":0.7,"size":15,"opacity":1},
"encoding":{"x":{"field":"e","type":"quantitative","scale":{"type":"log","domain":[0.000501,1995],"nice":false},"axis":null},"y":{"field":"t","type":"quantitative","scale":{"type":"log","domain":[3.755,10.55],"nice":false},"axis":null}}},
{"transform":[{"filter":"datum.g == 2.5"}],
"mark":{"type":"point","shape":"diamond","filled":true,"fill":"#ece0cc","stroke":"black","strokeWidth":0.7,"size":13,"opacity":1},
"encoding":{"x":{"field":"e","type":"quantitative","scale":{"type":"log","domain":[0.000501,1995],"nice":false},"axis":null},"y":{"field":"t","type":"quantitative","scale":{"type":"log","domain":[3.755,10.55],"nice":false},"axis":null}}}
],
"resolve":{"axis":{"x":"independent","y":"independent"}}
},
{
"width":299,"height":221,
"data":{"name":"b"},
"layer":[
{"mark":{"type":"line","strokeWidth":1.2},
"encoding":{
"x":{"field":"e","type":"quantitative","scale":{"type":"log","domain":[0.000501,1995],"nice":false},
"axis":{"orient":"bottom","values":[0.01,1,100],"labelExpr":"datum.value < 0.1 ? '10⁻²' : (datum.value < 10 ? '10⁰' : '10²')","labelFontSize":13.5,"labelPadding":2,"ticks":false,"domain":false,"grid":true,"gridColor":"#e3e3e3","title":"ε","titleFontSize":20,"titleFontStyle":"italic","titlePadding":2}},
"y":{"field":"t","type":"quantitative","scale":{"type":"log","domain":[0.82,2.44],"nice":false},
"axis":{"orient":"left","values":[1,2],"format":"d","labelFontSize":14,"labelPadding":6,"ticks":false,"domain":false,"grid":true,"gridColor":"#e3e3e3","title":"τ","titleFontSize":21,"titleFontStyle":"italic","titleAngle":-90,"titleX":-19,"titleY":135,"titleAlign":"center","titleBaseline":"alphabetic"}},
"color":{"field":"g","type":"nominal","scale":{"domain":[0.1,0.25,0.5,0.75,1,1.5,2,2.5],"range":["#808080","#f58a6e","#0000ff","#2e962e","#ff0000","#00c4c4","#ffd700","#d2b08c"]},
"legend":{"title":null,"orient":"top-left","offset":2,"fillColor":"white","strokeColor":"#cfcfcf","cornerRadius":3,"padding":3,"labelFontSize":10,"labelOffset":9,"symbolType":"M-1.6,0H1.6","symbolSize":121,"symbolStrokeWidth":1.6,"rowPadding":2.6,"labelExpr":"'γ = ' + datum.label"}}
}},
{"transform":[{"filter":"datum.g == 0.1"}],
"mark":{"type":"point","shape":"circle","filled":true,"fill":"#a8a8a8","stroke":"black","strokeWidth":0.7,"size":11,"opacity":1},
"encoding":{
"x":{"field":"e","type":"quantitative","scale":{"type":"log","domain":[0.000501,1995],"nice":false},
"axis":{"orient":"top","labels":false,"ticks":false,"domain":false,"grid":false,"title":"(b)","titleAnchor":"end","titleFontSize":16,"titlePadding":2}},
"y":{"field":"t","type":"quantitative","scale":{"type":"log","domain":[0.82,2.44],"nice":false},
"axis":{"orient":"left","labels":false,"ticks":false,"domain":false,"grid":false,"title":"MST","titleFontSize":11,"titleFontStyle":"italic","titleAngle":-90,"titleX":-16,"titleY":112,"titleAlign":"center","titleBaseline":"alphabetic"}}}},
{"transform":[{"filter":"datum.g == 0.25"}],
"mark":{"type":"point","shape":"triangle-up","filled":true,"fill":"#f58a6e","stroke":"black","strokeWidth":0.7,"size":11,"opacity":1},
"encoding":{
"x":{"field":"e","type":"quantitative","scale":{"type":"log","domain":[0.000501,1995],"nice":false},
"axis":{"orient":"top","labels":false,"ticks":false,"domain":false,"grid":false,"title":"ib = 0.8;\u2002\u2002D = 0.1,\u2002\u2002βc = 100","titleAnchor":"middle","titleFontSize":12.5,"titlePadding":3}},
"y":{"field":"t","type":"quantitative","scale":{"type":"log","domain":[0.82,2.44],"nice":false},
"axis":{"orient":"left","labels":false,"ticks":false,"domain":false,"grid":false,"title":"×10³","titleFontSize":12,"titleAngle":0,"titleX":25,"titleY":-4,"titleAlign":"center","titleBaseline":"alphabetic"}}}},
{"transform":[{"filter":"datum.g == 0.5"}],
"mark":{"type":"point","shape":"triangle-down","filled":true,"fill":"#0000ff","stroke":"black","strokeWidth":0.7,"size":11,"opacity":1},
"encoding":{"x":{"field":"e","type":"quantitative","scale":{"type":"log","domain":[0.000501,1995],"nice":false},"axis":null},"y":{"field":"t","type":"quantitative","scale":{"type":"log","domain":[0.82,2.44],"nice":false},"axis":null}}},
{"transform":[{"filter":"datum.g == 0.75"}],
"mark":{"type":"point","shape":"triangle-right","filled":true,"fill":"#2e962e","stroke":"black","strokeWidth":0.7,"size":11,"opacity":1},
"encoding":{"x":{"field":"e","type":"quantitative","scale":{"type":"log","domain":[0.000501,1995],"nice":false},"axis":null},"y":{"field":"t","type":"quantitative","scale":{"type":"log","domain":[0.82,2.44],"nice":false},"axis":null}}},
{"transform":[{"filter":"datum.g == 1"}],
"mark":{"type":"point","shape":"triangle-left","filled":true,"fill":"#ff0000","stroke":"black","strokeWidth":0.7,"size":11,"opacity":1},
"encoding":{"x":{"field":"e","type":"quantitative","scale":{"type":"log","domain":[0.000501,1995],"nice":false},"axis":null},"y":{"field":"t","type":"quantitative","scale":{"type":"log","domain":[0.82,2.44],"nice":false},"axis":null}}},
{"transform":[{"filter":"datum.g == 1.5"}],
"mark":{"type":"point","shape":"square","filled":true,"fill":"#00c4c4","stroke":"black","strokeWidth":0.7,"size":11,"opacity":1},
"encoding":{"x":{"field":"e","type":"quantitative","scale":{"type":"log","domain":[0.000501,1995],"nice":false},"axis":null},"y":{"field":"t","type":"quantitative","scale":{"type":"log","domain":[0.82,2.44],"nice":false},"axis":null}}},
{"transform":[{"filter":"datum.g == 2"}],
"mark":{"type":"point","shape":"M0,-1L0.55,0L0,1L-0.55,0Z","filled":true,"fill":"#ffd700","stroke":"black","strokeWidth":0.7,"size":15,"opacity":1},
"encoding":{"x":{"field":"e","type":"quantitative","scale":{"type":"log","domain":[0.000501,1995],"nice":false},"axis":null},"y":{"field":"t","type":"quantitative","scale":{"type":"log","domain":[0.82,2.44],"nice":false},"axis":null}}},
{"transform":[{"filter":"datum.g == 2.5"}],
"mark":{"type":"point","shape":"diamond","filled":true,"fill":"#ece0cc","stroke":"black","strokeWidth":0.7,"size":13,"opacity":1},
"encoding":{"x":{"field":"e","type":"quantitative","scale":{"type":"log","domain":[0.000501,1995],"nice":false},"axis":null},"y":{"field":"t","type":"quantitative","scale":{"type":"log","domain":[0.82,2.44],"nice":false},"axis":null}}}
],
"resolve":{"axis":{"x":"independent","y":"independent"}}
}
],
"resolve":{"scale":{"x":"independent","y":"independent","color":"independent"},"legend":{"color":"independent"}}
}
